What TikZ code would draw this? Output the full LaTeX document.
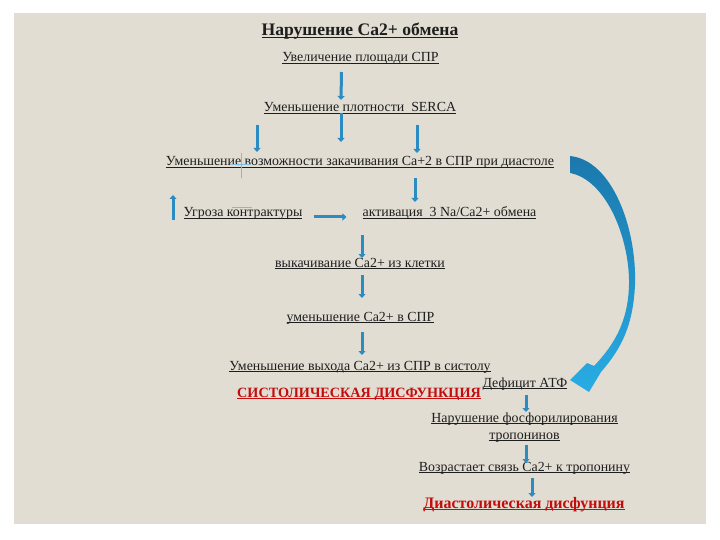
\documentclass[tikz,border=0pt]{standalone}
\usepackage{fontspec}
\setmainfont{Liberation Serif}
\usetikzlibrary{arrows.meta}
\newsavebox{\ulbox}
\newcommand{\ulin}[1]{\sbox{\ulbox}{#1}\rlap{\rule[-2pt]{\wd\ulbox}{0.8pt}}\usebox{\ulbox}}
\definecolor{panel}{RGB}{226,221,211}
\definecolor{ink}{RGB}{30,30,30}
\definecolor{arrblue}{RGB}{43,140,196}
\definecolor{faint}{RGB}{130,185,222}
\definecolor{topblue}{RGB}{27,120,172}
\definecolor{lowblue}{RGB}{40,172,228}
\definecolor{alarm}{RGB}{196,12,12}

\begin{document}
\begin{tikzpicture}[x=1pt, y=-1pt,
		txt/.style={anchor=base, inner sep=0pt, text=ink, font=\fontsize{13.9}{15}\selectfont},
		hot/.style={txt, text=alarm, font=\fontsize{14.2}{16}\selectfont\bfseries},
		arr/.style={draw=arrblue, line width=3pt, -{Triangle[width=7pt,length=4pt]}}]
		\useasboundingbox (0,0) rectangle (720,540);
		\fill[panel] (14,13) rectangle (706,524);

		\node[txt, font=\fontsize{17.6}{19}\selectfont\bfseries] (title) at (360,36) {\ulin{Нарушение Ca2+ обмена}};
		\node[txt] (incr) at (360.5,62) {\ulin{Увеличение площади СПР}};
		\node[txt] (serca) at (360,112) {\ulin{Уменьшение плотности\ \ SERCA}};
		\node[txt] (pump) at (360,166) {\ulin{Уменьшение возможности закачивания Ca+2 в СПР при диастоле}};
		\node[txt] (threat) at (243,217) {\ulin{Угроза контрактуры}};
		\node[txt] (natx) at (449.5,217) {\ulin{активация\ \ 3 Na/Ca2+ обмена}};
		\node[txt] (outflow) at (360,267) {\ulin{выкачивание Ca2+ из клетки}};
		\node[txt] (spr) at (360.5,321) {\ulin{уменьшение Ca2+ в СПР}};
		\node[txt] (release) at (360,370) {\ulin{Уменьшение выхода Ca2+ из СПР в систолу}};
		\node[hot] (sys) at (359,397) {\ulin{СИСТОЛИЧЕСКАЯ ДИСФУНКЦИЯ}};
		\node[txt] (atp) at (525,387) {\ulin{Дефицит АТФ}};
		\node[txt] (phos1) at (524.5,422) {\ulin{Нарушение фосфорилирования}};
		\node[txt] (phos2) at (524.5,439) {\ulin{тропонинов}};
		\node[txt] (bind) at (524.5,471) {\ulin{Возрастает связь Ca2+ к тропонину}};
		\node[hot, font=\fontsize{16}{17}\selectfont\bfseries] (dia) at (524,508) {\ulin{Диастолическая дисфунция}};

		% short blue arrows
		\draw[arr] ([xshift=-19pt,yshift=-10pt]incr.base) -- ([xshift=-19pt,yshift=12pt]serca.base);
		\draw[arr] ([xshift=-19pt,yshift=-1pt]serca.base) -- ([xshift=-19pt,yshift=24pt]pump.base);
		\draw[arr] ([xshift=-103pt,yshift=-13pt]serca.base) -- ([xshift=-103pt,yshift=14pt]pump.base);
		\draw[arr] ([xshift=57pt,yshift=-13pt]serca.base) -- ([xshift=57pt,yshift=13pt]pump.base);
		\draw[arr] ([xshift=55pt,yshift=-12pt]pump.base) -- ([xshift=-34.5pt,yshift=15pt]natx.base);
		\draw[arr] ([xshift=-70pt,yshift=-3pt]threat.base) -- ([xshift=-187pt,yshift=-29pt]pump.base);
		\draw[arr] ([xshift=11pt]threat.base east) -- ([xshift=-16pt]natx.base west);
		\draw[arr] ([xshift=-87.5pt,yshift=-18pt]natx.base) -- ([xshift=2pt,yshift=9pt]outflow.base);
		\draw[arr] ([xshift=2pt,yshift=-8pt]outflow.base) -- ([xshift=1.5pt,yshift=23pt]spr.base);
		\draw[arr] ([xshift=1.5pt,yshift=-11pt]spr.base) -- ([xshift=2pt,yshift=15pt]release.base);
		\draw[arr] ([xshift=1pt,yshift=-8pt]atp.base) -- ([xshift=1.5pt,yshift=10pt]phos1.base);
		\draw[arr] ([xshift=1.5pt,yshift=-6pt]phos2.base) -- ([xshift=1.5pt,yshift=8pt]bind.base);
		\draw[arr] ([xshift=7.5pt,yshift=-7pt]bind.base) -- ([xshift=8pt,yshift=11pt]dia.base);

		% faint marks
		\draw[faint, line width=0.8pt] (241,153) -- (241,178);
		\draw[faint, line width=0.8pt] (231,164) -- (251,164);
		\draw[faint, line width=0.8pt] (232,207) -- (252,207);

		% big curved arrow
		\shade[top color=topblue, bottom color=lowblue]
			(570,156) .. controls (612,160) and (637,228) .. (635,285)
			.. controls (633,325) and (622,348) .. (601,372)
			-- (589,392) -- (570,380) -- (587,363) -- (594,366)
			.. controls (614,345) and (628,322) .. (629,285)
			.. controls (630,240) and (607,180) .. (570,173) -- cycle;
\end{tikzpicture}
\end{document}
